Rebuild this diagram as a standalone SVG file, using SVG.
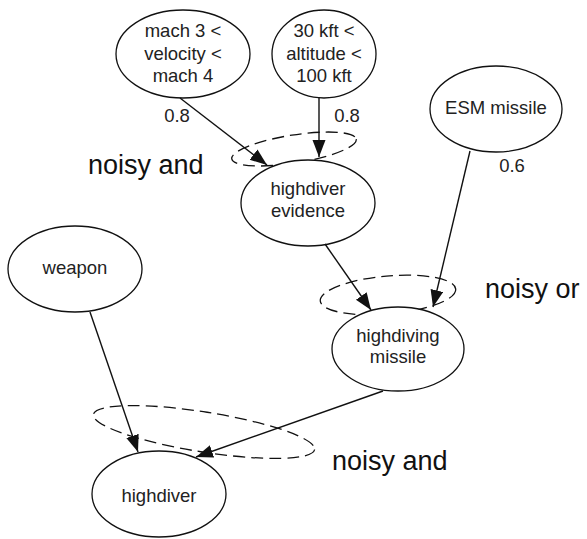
<svg xmlns="http://www.w3.org/2000/svg" width="587" height="539" viewBox="0 0 587 539">
  <style>
    .node { fill: #fff; stroke: #111; stroke-width: 1.3; }
    .lbl { font-family: "Liberation Sans", Arial, sans-serif; font-size: 18.5px; fill: #222; text-anchor: middle; }
    .big { font-family: "Liberation Sans", Arial, sans-serif; font-size: 27px; fill: #111; }
    .edge { stroke: #111; stroke-width: 1.4; fill: none; marker-end: url(#arrow); }
    .gate { fill: none; stroke: #111; stroke-width: 1.3; stroke-dasharray: 12 6; }
  </style>
  <defs>
    <marker id="arrow" markerUnits="userSpaceOnUse" markerWidth="18" markerHeight="14" refX="17" refY="6.5" orient="auto">
      <path d="M0,0 L17,6.5 L0,13 z" fill="#111"/>
    </marker>
  </defs>

  <rect width="587" height="539" fill="#fff"/>

  <!-- combination gates -->
  <g id="gates">
    <ellipse class="gate" cx="294" cy="149" rx="63" ry="14" transform="rotate(-9 294 149)"/>
    <ellipse class="gate" cx="388" cy="295" rx="68" ry="19" transform="rotate(-5 388 295)"/>
    <ellipse class="gate" cx="204" cy="432" rx="112" ry="20" transform="rotate(9 204 432)"/>
  </g>

  <g id="node-velocity">
    <ellipse class="node" cx="183" cy="54" rx="67" ry="44"/>
    <text class="lbl" x="183" y="37">mach 3 &lt;</text>
    <text class="lbl" x="183" y="60">velocity &lt;</text>
    <text class="lbl" x="183" y="82">mach 4</text>
  </g>

  <g id="node-altitude">
    <ellipse class="node" cx="324" cy="54" rx="52" ry="44"/>
    <text class="lbl" x="324" y="37">30 kft &lt;</text>
    <text class="lbl" x="324" y="60">altitude &lt;</text>
    <text class="lbl" x="324" y="82">100 kft</text>
  </g>

  <g id="node-esm">
    <ellipse class="node" cx="496" cy="109" rx="66" ry="43"/>
    <text class="lbl" x="496" y="114">ESM missile</text>
  </g>

  <g id="node-evidence">
    <ellipse class="node" cx="308" cy="203" rx="67" ry="43"/>
    <text class="lbl" x="308" y="195">highdiver</text>
    <text class="lbl" x="308" y="217">evidence</text>
  </g>

  <g id="node-missile">
    <ellipse class="node" cx="398" cy="349" rx="66" ry="42"/>
    <text class="lbl" x="398" y="342">highdiving</text>
    <text class="lbl" x="398" y="363">missile</text>
  </g>

  <g id="node-weapon">
    <ellipse class="node" cx="75" cy="269" rx="67" ry="43"/>
    <text class="lbl" x="75" y="274">weapon</text>
  </g>

  <g id="node-highdiver">
    <ellipse class="node" cx="159" cy="494" rx="67" ry="43"/>
    <text class="lbl" x="159" y="502">highdiver</text>
  </g>

  <g id="connectors">
    <line class="edge" x1="180" y1="98" x2="267" y2="165"/>
    <line class="edge" x1="319" y1="98" x2="319" y2="157"/>
    <line class="edge" x1="470" y1="151" x2="433" y2="307"/>
    <line class="edge" x1="325" y1="244" x2="371" y2="310"/>
    <line class="edge" x1="90" y1="312" x2="138" y2="452"/>
    <line class="edge" x1="383" y1="391" x2="196" y2="457"/>
  </g>

  <!-- edge weights -->
  <g id="weights">
    <text class="lbl" x="177" y="122">0.8</text>
    <text class="lbl" x="347" y="122">0.8</text>
    <text class="lbl" x="512" y="172">0.6</text>
  </g>

  <g id="gate-labels">
    <text class="big" x="88" y="174">noisy and</text>
    <text class="big" x="485" y="298">noisy or</text>
    <text class="big" x="332" y="470">noisy and</text>
  </g>
</svg>
